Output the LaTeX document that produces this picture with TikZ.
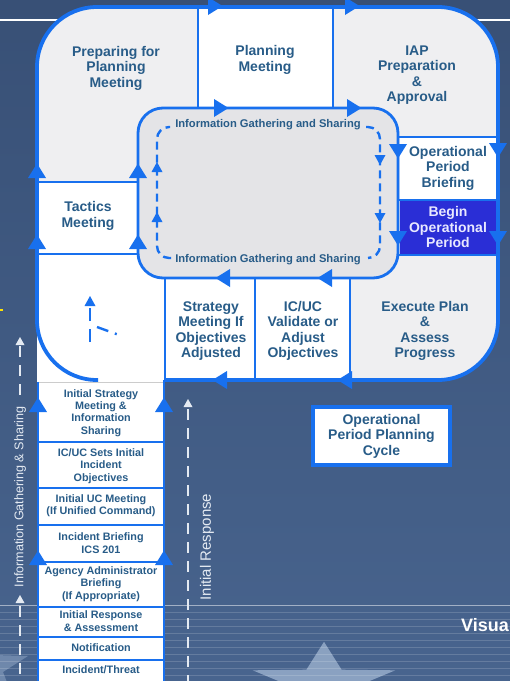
\documentclass[tikz,border=0pt]{standalone}
\usepackage{fontspec}
\setmainfont{Liberation Sans}
\usetikzlibrary{shapes.geometric}

\definecolor{bgtop}{RGB}{56,80,118}
\definecolor{bgbot}{RGB}{72,100,142}
\definecolor{edge}{RGB}{24,112,238}
\definecolor{paleg}{RGB}{239,239,241}
\definecolor{innerg}{RGB}{228,228,231}
\definecolor{ink}{RGB}{40,92,136}
\definecolor{deepblue}{RGB}{42,46,214}
\definecolor{lavender}{RGB}{232,232,255}
\definecolor{mist}{RGB}{228,234,242}
\definecolor{starlight}{RGB}{150,172,202}

\tikzset{
  frame/.style={draw=edge, line width=3.8pt},
  rule/.style={draw=edge, line width=2.8pt},
  thin/.style={draw=edge, line width=2.2pt},
  loopdash/.style={draw=edge, line width=2.4pt, dash pattern=on 8pt off 5pt},
  sidedash/.style={draw=mist, line width=2.6pt, dash pattern=on 11pt off 8pt},
  lbl/.style={text=ink, font=\fontsize{14}{15.5}\selectfont\bfseries, align=center, inner sep=0pt},
  stk/.style={text=ink, font=\fontsize{10.8}{12.3}\selectfont\bfseries, align=center, inner sep=0pt},
  info/.style={text=ink, font=\fontsize{11.2}{12}\selectfont\bfseries, inner sep=0pt},
  side/.style={text=mist, inner sep=0pt, rotate=90},
  tri/.pic={\fill[edge] (-7,-9) -- (7.5,0) -- (-7,9) -- cycle;},
  smtri/.pic={\fill[edge] (-5,-5.5) -- (5,0) -- (-5,5.5) -- cycle;},
  wtri/.pic={\fill[mist] (-4,-4.5) -- (4,0) -- (-4,4.5) -- cycle;},
}

\begin{document}
\begin{tikzpicture}[x=1pt,y=-1pt]
\useasboundingbox (0,0) rectangle (510,681);

% slide backdrop
\shade[top color=bgtop, bottom color=bgbot] (0,0) rectangle (510,681);
\draw[white, line width=1.6pt] (0,20) -- (510,20);
% flattened stars of the slide footer
\fill[starlight, opacity=0.85] (324,641.8) -- (341.6,669.7) -- (395.3,670.3) -- (352.5,688.1) -- (368.1,716.4)
  -- (324,699.5) -- (279.9,716.4) -- (295.5,688.1) -- (252.7,670.3) -- (306.4,669.7) -- cycle;
\fill[starlight, opacity=0.5] (-20,630) -- (-5,655) -- (28,656) -- (3,672) -- (14,700) -- (-20,690) -- cycle;
\foreach \yy in {612,619,...,681}
  \draw[white, opacity=0.16, line width=0.8pt] (0,\yy) -- (510,\yy);
\draw[white, opacity=0.5, line width=1pt] (0,605) -- (510,605);
\fill[yellow!85!orange] (0,308.8) rectangle (3,311.2);
\node[text=white, font=\fontsize{18}{20}\selectfont\bfseries, anchor=west, inner sep=0pt] (visual) at (461,625) {Visua};

% planning cycle body
\fill[paleg, rounded corners=60pt] (37,7) rectangle (498,380);
\fill[white] (198,7) rectangle (333,108);
\fill[white] (400,137) rectangle (498,200);
\fill[deepblue] (400,200) rectangle (498,255);
\fill[white] (37,182) rectangle (138,254);
\fill[white] (37,254) rectangle (165,382);
\fill[white] (165,278) rectangle (255,380);
\fill[white] (255,278) rectangle (350,380);

% internal dividers
\draw[rule] (198,7) -- (198,108);
\draw[rule] (333,7) -- (333,108);
\draw[rule] (398,137) -- (498,137);
\draw[rule] (398,200) -- (498,200);
\draw[rule] (398,255) -- (498,255);
\draw[rule] (37,182) -- (138,182);
\draw[rule] (37,254) -- (138,254);
\draw[rule] (165,278) -- (165,382);
\draw[rule] (255,278) -- (255,380);
\draw[rule] (350,278) -- (350,380);

% outer boundary of the cycle
\draw[frame, rounded corners=60pt] (165,380) -- (498,380) -- (498,7) -- (37,7) -- (37,380) -- (98,380);

% central information loop
\filldraw[fill=innerg, rule, rounded corners=25pt] (138,108) rectangle (398,278);
\draw[loopdash, rounded corners=12pt] (171,258) -- (157,258) -- (157,127) -- (170,127);
\draw[loopdash, rounded corners=12pt] (366,127) -- (380,127) -- (380,258) -- (368,258);
\node[info] (infotop) at (268,125) {Information Gathering and Sharing};
\node[info] (infobot) at (268,260) {Information Gathering and Sharing};
\pic[rotate=90] at (157,167) {smtri};
\pic[rotate=90] at (157,217) {smtri};
\pic[rotate=-90] at (380,160) {smtri};
\pic[rotate=-90] at (380,218) {smtri};

% fragment of dashed loop in the corner panel
\draw[loopdash, dash pattern=on 13pt off 8pt] (90,342) -- (90,305);
\pic[rotate=90] at (90,301) {smtri};
\draw[loopdash, dash pattern=on 12pt off 7pt on 2pt off 20pt] (97,327) -- (119,335);

% flow arrows along the cycle
\pic at (215,6) {tri};
\pic at (352,6) {tri};
\pic at (221,108) {tri};
\pic at (354,108) {tri};
\pic[rotate=-90] at (398,151) {tri};
\pic[rotate=-90] at (398,238) {tri};
\pic[rotate=-90] at (498,150) {tri};
\pic[rotate=-90] at (498,238) {tri};
\pic[rotate=180] at (223,278) {tri};
\pic[rotate=180] at (325,278) {tri};
\pic[rotate=180] at (220,380) {tri};
\pic[rotate=180] at (345,380) {tri};
\pic[rotate=90] at (138,171) {tri};
\pic[rotate=90] at (138,242) {tri};
\pic[rotate=90] at (37,171) {tri};
\pic[rotate=90] at (37,242) {tri};

% cycle labels
\node[lbl] (prep) at (116,68) {Preparing for\\Planning\\Meeting};
\node[lbl] (pm) at (265,60) {Planning\\Meeting};
\node[lbl] (iap) at (417,75) {IAP\\Preparation\\\&\\Approval};
\node[lbl] (opb) at (448,168) {Operational\\Period\\Briefing};
\node[lbl, text=lavender] (bop) at (448,227) {Begin\\Operational\\Period};
\node[lbl] (exec) at (425,331) {Execute Plan\\\&\\Assess\\Progress};
\node[lbl] (icuc) at (303,331) {IC/UC\\Validate or\\Adjust\\Objectives};
\node[lbl] (strat) at (211,331) {Strategy\\Meeting If\\Objectives\\Adjusted};
\node[lbl] (tact) at (88,216) {Tactics\\Meeting};

% initial response stack
\fill[white] (38,382) rectangle (164,683);
\draw[gray!40, line width=0.8pt] (38,382) -- (164,382);
\draw[rule] (38,382) -- (38,683);
\draw[rule] (164,380) -- (164,683);
\foreach \yy in {442,488,525,562,607,637,660}
  \draw[thin] (38,\yy) -- (164,\yy);
\pic[rotate=90] at (38,405) {tri};
\pic[rotate=90] at (164,405) {tri};
\pic[rotate=90] at (38,558) {tri};
\pic[rotate=90] at (164,558) {tri};

\node[stk] (s1) at (101,413) {Initial Strategy\\Meeting \&\\Information\\Sharing};
\node[stk] (s2) at (101,466) {IC/UC Sets Initial\\Incident\\Objectives};
\node[stk] (s3) at (101,506) {Initial UC Meeting\\(If Unified Command)};
\node[stk] (s4) at (101,543) {Incident Briefing\\ICS 201};
\node[stk] (s5) at (101,584) {Agency Administrator\\Briefing\\(If Appropriate)};
\node[stk] (s6) at (101,621) {Initial Response\\\& Assessment};
\node[stk] (s7) at (101,648) {Notification};
\node[stk] (s8) at (101,670) {Incident/Threat};

% side annotations
\draw[sidedash] (20,346) -- (20,402);
\draw[sidedash] (20,606) -- (20,683);
\pic[rotate=90] at (20,341) {wtri};
\pic[rotate=90] at (20,599) {wtri};
\node[side, font=\fontsize{12.6}{14}\selectfont] (igs) at (20,497) {Information Gathering \& Sharing};

\draw[sidedash] (188,409) -- (188,683);
\pic[rotate=90] at (188,403) {wtri};
\node[side, font=\fontsize{15}{16}\selectfont] (ir) at (207,547) {Initial Response};

% cycle title
\node[lbl, fill=white, draw=edge, line width=3.5pt, minimum width=137pt, minimum height=58pt] (title) at (381.5,436) {Operational\\Period Planning\\Cycle};
\end{tikzpicture}
\end{document}
